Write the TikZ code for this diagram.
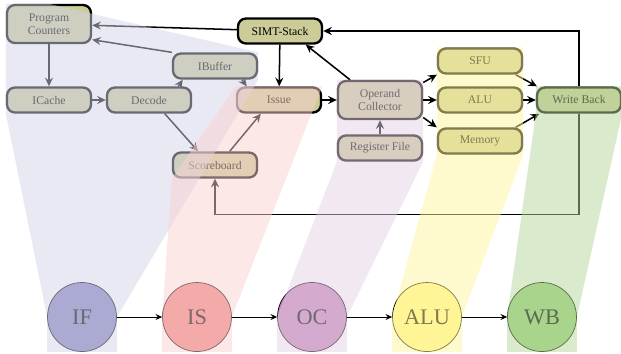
\documentclass[tikz,border=0pt]{standalone}
\usepackage{fontspec}
\setmainfont{Liberation Serif}
\usetikzlibrary{arrows.meta}

\definecolor{boxfill}{RGB}{204,204,153}
\definecolor{ifband}{RGB}{211,211,233}
\definecolor{isband}{RGB}{251,209,209}
\definecolor{ocband}{RGB}{229,209,229}
\definecolor{aluband}{RGB}{255,245,155}
\definecolor{wbband}{RGB}{181,215,155}
\definecolor{ifcol}{RGB}{129,129,187}
\definecolor{iscol}{RGB}{239,131,131}
\definecolor{occol}{RGB}{195,131,183}
\definecolor{alucol}{RGB}{255,245,145}
\definecolor{wbcol}{RGB}{155,209,125}

\tikzset{
  unit/.style={draw, rounded corners=0.24cm, line width=2pt, fill=boxfill,
    minimum width=2.52cm, minimum height=0.75cm, inner sep=1pt, align=center,
    font=\fontsize{10}{11.5}\selectfont},
  tall/.style={minimum height=1.14cm},
  stage/.style={circle, draw, line width=0.6pt, minimum size=2.07cm,
    inner sep=0pt, font=\fontsize{19}{20}\selectfont},
  link/.style={-{Stealth[length=2.6mm, width=2.4mm, inset=0.9mm]}, line width=1.3pt},
  flow/.style={-{Stealth[length=2mm, width=1.8mm, inset=0.7mm]}, line width=0.8pt},
  band/.style={fill opacity=0.5}
}

\begin{document}
\begin{tikzpicture}[x=0.03cm, y=-0.03cm]
    \useasboundingbox (0,0) rectangle (621,353);

    \node[unit, tall] (pc) at (49,24) {Program\\Counters};
    \node[unit] (simt) at (280,31) {SIMT-Stack};
    \node[unit] (ibuf) at (215,66) {IBuffer};
    \node[unit] (icache) at (49,100) {ICache};
    \node[unit] (decode) at (149,100) {Decode};
    \node[unit] (issue) at (279,100) {Issue};
    \node[unit] (score) at (215,165) {Scoreboard};
    \node[unit, tall] (opcol) at (380,100) {Operand\\Collector};
    \node[unit] (regfile) at (380,148) {Register File};
    \node[unit] (sfu) at (480,61) {SFU};
    \node[unit] (alu) at (480,100) {ALU};
    \node[unit] (mem) at (480,141) {Memory};
    \node[unit] (wb) at (579,100) {Write Back};

    \draw [link] (simt) -- (pc);
    \draw [link] (ibuf.north west) -- (pc.-20);
    \draw [link] (pc) -- (icache);
    \draw [link] (icache) -- (decode);
    \draw [link] (decode.25) -- (ibuf.203);
    \draw [link] (ibuf.-27) -- (issue.157);
    \draw [link] (simt) -- (issue);
    \draw [link] (decode.-41) -- (score.141);
    \draw [link] (score.43) -- (issue.217);
    \draw [link] (issue) -- (opcol);
    \draw [link] (opcol.146) -- (simt.-28);
    \draw [link] (regfile) -- (opcol);
    \draw [link] (opcol.22) -- (sfu.south west);
    \draw [link] (opcol) -- (alu);
    \draw [link] (opcol.-22) -- (mem.north west);
    \draw [link] (sfu.-21) -- (wb.162);
    \draw [link] (alu) -- (wb);
    \draw [link] (mem.21) -- (wb.199);
    \draw [link] (wb.north) |- (simt.east);
    \draw [link] (wb.south) -- ++(0,101) -| (score.south);

    \node[stage, fill=ifcol] (ifst) at (82,317) {IF};
    \node[stage, fill=iscol] (isst) at (197,317) {IS};
    \node[stage, fill=occol] (ocst) at (312,317) {OC};
    \node[stage, fill=alucol] (alust) at (427,317) {ALU};
    \node[stage, fill=wbcol] (wbst) at (542,317) {WB};

    \draw [flow] (ifst) -- (isst);
    \draw [flow] (isst) -- (ocst);
    \draw [flow] (ocst) -- (alust);
    \draw [flow] (alust) -- (wbst);

    \fill [ifband, band] (ifst.west) -- (icache.south west) -- (pc.north west) -- (pc.north)
        -- (ibuf.north east) -- (ibuf.south east) -- (ifst.east)
        -- (ifst.east |- ifst.south) -- (ifst.west |- ifst.south) -- cycle;
    \fill [isband, band] (isst.west) -- (score.south west) -- (issue.north west)
        -- (issue.north east) -- (isst.east)
        -- (isst.east |- isst.south) -- (isst.west |- isst.south) -- cycle;
    \fill [ocband, band] (ocst.west) -- (regfile.south west) -- (opcol.north west)
        -- (opcol.north east) -- (regfile.south east) -- (ocst.east)
        -- (ocst.east |- ocst.south) -- (ocst.west |- ocst.south) -- cycle;
    \fill [aluband, band] (alust.west) -- (mem.south west) -- (sfu.north west)
        -- (sfu.north east) -- (mem.south east) -- (alust.east)
        -- (alust.east |- alust.south) -- (alust.west |- alust.south) -- cycle;
    \fill [wbband, band] (wbst.west) -- (wb.south west) -- (wb.north west)
        -- (wb.north east) -- (wb.south east) -- (wbst.east)
        -- (wbst.east |- wbst.south) -- (wbst.west |- wbst.south) -- cycle;
\end{tikzpicture}
\end{document}
